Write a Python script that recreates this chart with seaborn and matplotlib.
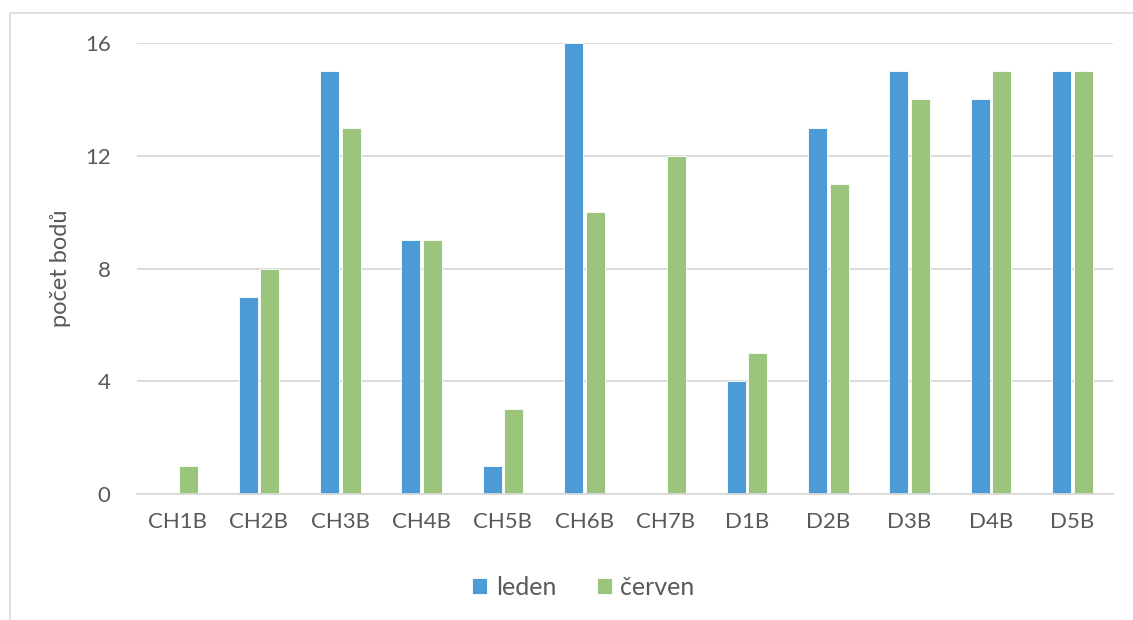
import pandas as pd
import seaborn as sns
import matplotlib.pyplot as plt
from matplotlib.patches import Rectangle

# Data
categories = ["CH1B", "CH2B", "CH3B", "CH4B", "CH5B", "CH6B",
              "CH7B", "D1B", "D2B", "D3B", "D4B", "D5B"]
leden = [0, 7, 15, 9, 1, 16, 0, 4, 13, 15, 14, 15]
cerven = [1, 8, 13, 9, 3, 10, 12, 5, 11, 14, 15, 15]
series_names = ["leden", "červen"]

df = pd.DataFrame({
    "kategorie": categories * 2,
    "body": leden + cerven,
    "měsíc": [series_names[0]] * len(categories) + [series_names[1]] * len(categories),
})

sns.set_style("white")
plt.rcParams["font.family"] = ["Lato", "DejaVu Sans"]
text_color = "#595959"
grid_color = "#D9D9D9"

fig = plt.figure(figsize=(11.33, 6.2), dpi=100)
ax = fig.add_axes([0.1209, 0.2032, 0.8614, 0.7274])

sns.barplot(data=df, x="kategorie", y="body", hue="měsíc",
            palette=["#4C9BD6", "#9BC47D"], width=0.53, gap=0.12,
            saturation=1, edgecolor="white", linewidth=0.6, ax=ax)

ax.set_ylim(0, 16)
ax.set_yticks([0, 4, 8, 12, 16])
ax.set_xlim(-0.5, len(categories) - 0.5)
ax.yaxis.grid(True, color=grid_color, linewidth=1.3)
ax.set_axisbelow(True)
for side in ["top", "right", "left"]:
    ax.spines[side].set_visible(False)
ax.spines["bottom"].set_color(grid_color)
ax.spines["bottom"].set_linewidth(1.3)
ax.tick_params(axis="both", length=0, labelsize=16, colors=text_color, pad=19)
ax.tick_params(axis="x", pad=13)
ax.set_xlabel("")
ax.set_ylabel("počet bodů", fontsize=17, color=text_color, labelpad=10)

handles, labels = ax.get_legend_handles_labels()
ax.get_legend().remove()
fig.legend(handles, labels, loc="center", bbox_to_anchor=(0.515, 0.053),
           ncol=2, frameon=False, fontsize=18, labelcolor=text_color,
           handlelength=0.6, handleheight=0.6, handletextpad=0.35,
           columnspacing=1.6)

# light chart frame
fig.patches.append(Rectangle((10 / 1133, -0.1), 1.2, 1 - 13 / 620 + 0.1,
                             transform=fig.transFigure, fill=False,
                             edgecolor="#D9D9D9", linewidth=1.2))

plt.savefig("out.png", dpi=100)
